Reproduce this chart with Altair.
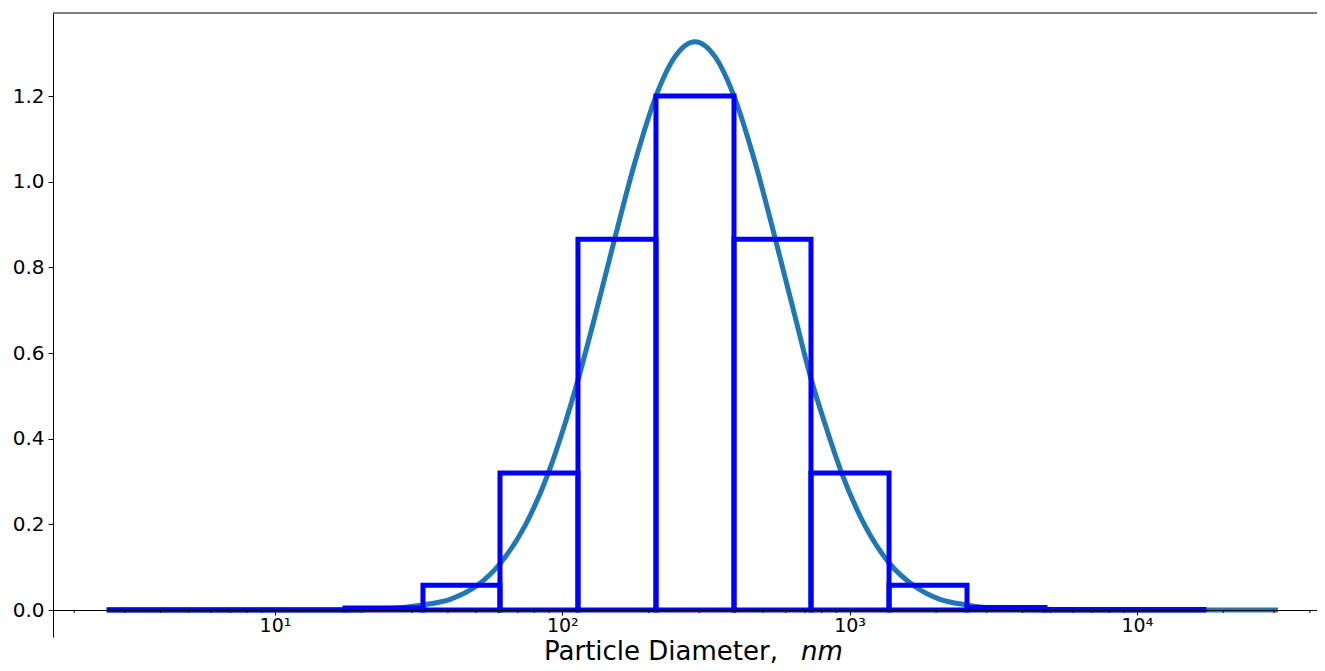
import json
import altair as alt
import pandas as pd

# ---- data ----
curve_d = [2.644, 5.48, 10.41, 17.52, 23.2, 32.7, 40.7, 50.5, 60.7, 74.2, 89.2, 102.2,
           113.4, 130.0, 150.1, 179.1, 211.9, 246.8, 289.7, 340.0, 396.0, 468.5, 559.0,
           645.5, 734.0, 821.0, 940.8, 1131, 1372, 1689, 2064, 2563, 3338, 4788, 7438,
           16580, 30980]
curve_v = [0, 0, 0, 0.0003, 0.002, 0.012, 0.025, 0.057, 0.108, 0.197, 0.318, 0.435,
           0.537, 0.686, 0.851, 1.046, 1.200, 1.292, 1.327, 1.292, 1.200, 1.046, 0.851,
           0.686, 0.540, 0.435, 0.318, 0.197, 0.110, 0.055, 0.025, 0.012, 0.003, 0.0003, 0,
           0, 0]

bin_edges = [2.644, 17.52, 32.74, 60.7, 113.4, 211.9, 396.0, 734.0, 1372, 2563, 4788, 17120]
bin_vals = [0.0005, 0.005, 0.058, 0.320, 0.866, 1.200, 0.866, 0.320, 0.058, 0.006, 0.001]

major_ticks = [10, 100, 1000, 10000]
major_labels = ["10¹", "10²", "10³", "10⁴"]
minor_ticks = [m * 10 ** e for e in range(0, 5) for m in range(2, 10) if 1.688 <= m * 10 ** e <= 42360]
y_ticks = [0.0, 0.2, 0.4, 0.6, 0.8, 1.0, 1.2]

x_title = "Particle Diameter,"
x_title_unit = "nm"

# ---- tables ----
curve_df = pd.DataFrame({"d": curve_d, "v": curve_v})
bar_df = pd.DataFrame({"lo": bin_edges[:-1], "hi": bin_edges[1:], "val": bin_vals})
minor_df = pd.DataFrame({"m": minor_ticks})
one = pd.DataFrame({"a": [0]})

W, H = 1264, 624
xscale = alt.Scale(type="log", domain=[1.688, 42360], nice=False)
yscale = alt.Scale(domain=[-0.063, 1.394], nice=False, zero=False)

label_expr = (
    f"indexof({json.dumps(major_ticks)}, datum.value) >= 0 ? "
    f"{json.dumps(major_labels, ensure_ascii=False)}[indexof({json.dumps(major_ticks)}, datum.value)] : ''"
)

x_axis = alt.Axis(values=major_ticks, labelExpr=label_expr, title=None, orient="bottom",
                  offset=-27, tickSize=5, labelPadding=1, zindex=1, grid=False,
                  labelOverlap=False, labelFlush=False, labelFontSize=19,
                  labelFont="DejaVu Sans", labelColor="black")
y_axis = alt.Axis(values=y_ticks, format=".1f", title=None, tickSize=5, labelPadding=4,
                  grid=False, labelOverlap=False, labelFontSize=20,
                  labelFont="DejaVu Sans", labelColor="black")

curve = alt.Chart(curve_df).mark_line(
    color="#1f77b4", strokeWidth=5, interpolate="monotone"
).encode(
    x=alt.X("d:Q", scale=xscale, axis=x_axis),
    y=alt.Y("v:Q", scale=yscale, axis=y_axis),
)

bars = alt.Chart(bar_df).mark_rect(
    filled=False, color="#0000ff", stroke="#0000ff", strokeWidth=5, strokeJoin="miter"
).encode(
    x=alt.X("lo:Q", scale=xscale, axis=x_axis),
    x2="hi:Q",
    y=alt.Y("val:Q", scale=yscale, axis=y_axis),
    y2=alt.datum(0),
)

minor = alt.Chart(minor_df).mark_rule(color="black", strokeWidth=1, y2Offset=3).encode(
    x=alt.X("m:Q", scale=xscale, axis=x_axis),
    y=alt.datum(0),
    y2=alt.datum(0),
)

top_spine = alt.Chart(one).mark_rule(color="black", strokeWidth=1).encode(
    x=alt.value(0), x2=alt.value(W), y=alt.value(0)
)

title_main = alt.Chart(pd.DataFrame({"t": [x_title]})).mark_text(
    font="DejaVu Sans", fontSize=26, align="left", baseline="alphabetic", color="black"
).encode(text="t:N", x=alt.value(491), y=alt.value(647))

title_unit = alt.Chart(pd.DataFrame({"t": [x_title_unit]})).mark_text(
    font="DejaVu Sans", fontSize=26, fontStyle="italic", align="left",
    baseline="alphabetic", color="black"
).encode(text="t:N", x=alt.value(748), y=alt.value(647))

chart = alt.layer(curve, bars, minor, top_spine, title_main, title_unit).properties(
    width=W, height=H,
    autosize=alt.AutoSizeParams(type="none"),
    padding={"left": 45, "top": 5, "right": 0, "bottom": 29},
).configure_view(stroke=None).configure_axis(
    domainColor="black", tickColor="black", labelColor="black", domainWidth=1,
    tickWidth=1, labelFont="DejaVu Sans", labelFontSize=20,
)

chart.save("out.html", embed_options={"renderer": "svg", "actions": False})
